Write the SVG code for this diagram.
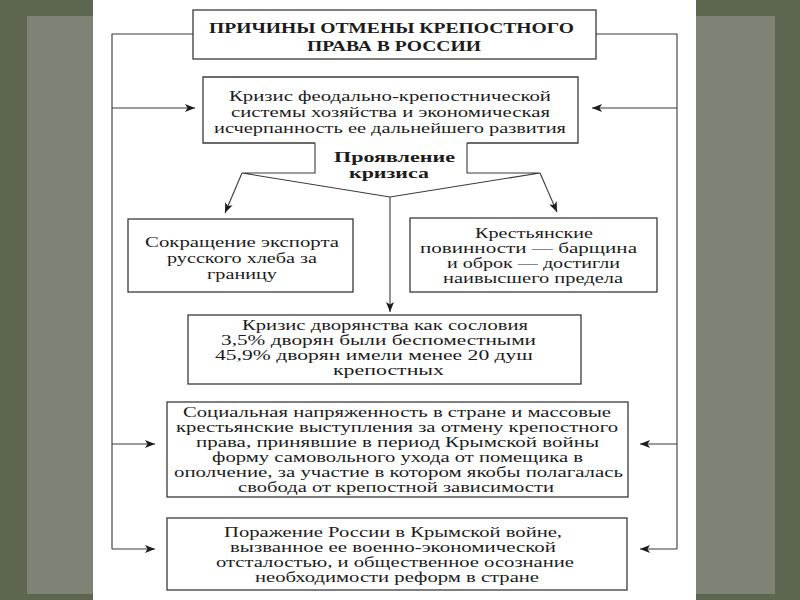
<svg xmlns="http://www.w3.org/2000/svg" width="800" height="600" viewBox="0 0 800 600">
<defs>
<style>
.box{fill:#fff;stroke:#3a3a3a;stroke-width:1.3}
.ln{fill:none;stroke:#3a3a3a;stroke-width:1.1}
.t{font-family:"Liberation Serif","Times New Roman",serif;font-size:15px;fill:#1c1c1c}
.s{font-size:14px}
.b{font-weight:bold}
</style>
<marker id="ah" viewBox="0 0 10 8" refX="10" refY="4" markerWidth="10" markerHeight="8" orient="auto" markerUnits="userSpaceOnUse">
<path d="M0,0 L10,4 L0,8 L2.5,4 z" fill="#1c1c1c"/>
</marker>
</defs>
<rect x="0" y="0" width="800" height="600" fill="#5d6650"/>
<rect x="27" y="16" width="748" height="578" fill="#7e8376"/>
<rect x="93" y="0" width="603" height="600" fill="#ffffff"/>

<g id="connectors">
<path class="ln" d="M193,34 H112 V549"/>
<path class="ln" d="M596,34 H677 V549"/>
<path class="ln" d="M112,108 H195" marker-end="url(#ah)"/>
<path class="ln" d="M677,108 H592" marker-end="url(#ah)"/>
<path class="ln" d="M112,444 H155" marker-end="url(#ah)"/>
<path class="ln" d="M677,444 H640" marker-end="url(#ah)"/>
<path class="ln" d="M112,549 H155" marker-end="url(#ah)"/>
<path class="ln" d="M677,549 H640" marker-end="url(#ah)"/>
<path class="ln" d="M315,143 V173 H242 L390,197 L540,173 H467 V143"/>
<path class="ln" d="M242,173 L225,213" marker-end="url(#ah)"/>
<path class="ln" d="M540,173 L557,212" marker-end="url(#ah)"/>
<path class="ln" d="M390,197 V312" marker-end="url(#ah)"/>
</g>

<g id="title">
<rect class="box" x="193" y="10" width="403" height="49"/>
<text class="t b" x="209" y="33" textLength="365" lengthAdjust="spacingAndGlyphs">ПРИЧИНЫ ОТМЕНЫ КРЕПОСТНОГО</text>
<text class="t b" x="307" y="51" textLength="174" lengthAdjust="spacingAndGlyphs">ПРАВА В РОССИИ</text>
</g>

<g id="crisis">
<path class="box" d="M315,143 H203 V77 H578 V143 H467"/>
<text class="t" x="229" y="101" textLength="322" lengthAdjust="spacingAndGlyphs">Кризис феодально-крепостнической</text>
<text class="t" x="231" y="117" textLength="319" lengthAdjust="spacingAndGlyphs">системы хозяйства и экономическая</text>
<text class="t" x="214" y="133" textLength="352" lengthAdjust="spacingAndGlyphs">исчерпанность ее дальнейшего развития</text>
</g>

<g id="manifest">
<text class="t b" x="334" y="162" font-size="16" textLength="121" lengthAdjust="spacingAndGlyphs">Проявление</text>
<text class="t b" x="349" y="178" font-size="16" textLength="80" lengthAdjust="spacingAndGlyphs">кризиса</text>
</g>

<g id="export">
<rect class="box" x="128" y="219" width="225" height="73"/>
<text class="t" x="145" y="247" textLength="194" lengthAdjust="spacingAndGlyphs">Сокращение экспорта</text>
<text class="t" x="167" y="263" textLength="150" lengthAdjust="spacingAndGlyphs">русского хлеба за</text>
<text class="t" x="207" y="279" textLength="70" lengthAdjust="spacingAndGlyphs">границу</text>
</g>

<g id="duties">
<rect class="box" x="410" y="218" width="247" height="74"/>
<text class="t" x="475" y="238" textLength="118" lengthAdjust="spacingAndGlyphs">Крестьянские</text>
<text class="t" x="420" y="253" textLength="217" lengthAdjust="spacingAndGlyphs">повинности — барщина</text>
<text class="t" x="447" y="268" textLength="173" lengthAdjust="spacingAndGlyphs">и оброк — достигли</text>
<text class="t" x="443" y="283" textLength="180" lengthAdjust="spacingAndGlyphs">наивысшего предела</text>
</g>

<g id="nobility">
<rect class="box" x="188" y="315" width="393" height="69"/>
<text class="t s" x="242" y="330" textLength="286" lengthAdjust="spacingAndGlyphs">Кризис дворянства как сословия</text>
<text class="t s" x="221" y="345" textLength="315" lengthAdjust="spacingAndGlyphs">3,5% дворян были беспоместными</text>
<text class="t s" x="215" y="360" textLength="318" lengthAdjust="spacingAndGlyphs">45,9% дворян имели менее 20 душ</text>
<text class="t s" x="333" y="375" textLength="111" lengthAdjust="spacingAndGlyphs">крепостных</text>
</g>

<g id="tension">
<rect class="box" x="167" y="402" width="461" height="95"/>
<text class="t" x="183" y="417" textLength="428" lengthAdjust="spacingAndGlyphs">Социальная напряженность в стране и массовые</text>
<text class="t" x="176" y="432" textLength="442" lengthAdjust="spacingAndGlyphs">крестьянские выступления за отмену крепостного</text>
<text class="t" x="196" y="447" textLength="403" lengthAdjust="spacingAndGlyphs">права, принявшие в период Крымской войны</text>
<text class="t" x="212" y="462" textLength="371" lengthAdjust="spacingAndGlyphs">форму самовольного ухода от помещика в</text>
<text class="t" x="174" y="477" textLength="449" lengthAdjust="spacingAndGlyphs">ополчение, за участие в котором якобы полагалась</text>
<text class="t" x="238" y="492" textLength="316" lengthAdjust="spacingAndGlyphs">свобода от крепостной зависимости</text>
</g>

<g id="defeat">
<rect class="box" x="167" y="518" width="460" height="72"/>
<text class="t" x="224" y="537" textLength="338" lengthAdjust="spacingAndGlyphs">Поражение России в Крымской войне,</text>
<text class="t" x="230" y="552" textLength="326" lengthAdjust="spacingAndGlyphs">вызванное ее военно-экономической</text>
<text class="t" x="216" y="567" textLength="358" lengthAdjust="spacingAndGlyphs">отсталостью, и общественное осознание</text>
<text class="t" x="255" y="582" textLength="284" lengthAdjust="spacingAndGlyphs">необходимости реформ в стране</text>
</g>
</svg>
